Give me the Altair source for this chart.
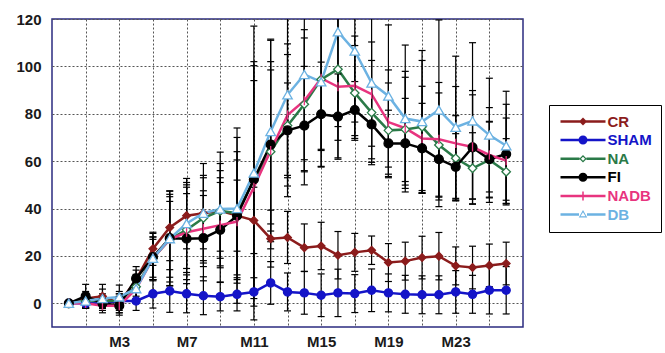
import altair as alt
import pandas as pd

# Months M0..M26 on a numeric axis
months = list(range(27))
series = ["CR", "SHAM", "NA", "FI", "NADB", "DB"]
colors = ["#8b1c1c", "#1414c8", "#2a7a48", "#000000", "#e8347f", "#6cb2e2"]
marker_fill = ["#8b1c1c", "#1414c8", "#ffffff", "#000000", "#e8347f", "#ffffff"]
marker_shape = ["diamond", "circle", "diamond", "circle", "M0,-1L0,1", "triangle-up"]
marker_size = [60, 90, 49, 81, 64, 64]

# Legend symbols: line segment plus marker, in symbol units (1 unit = 5 px at size 100)
legend_paths = [
    "M-4.5,-0.25L4.5,-0.25L4.5,0.25L-4.5,0.25Z M0,-0.8L0.8,0L0,0.8L-0.8,0Z",
    "M-4.5,-0.25L4.5,-0.25L4.5,0.25L-4.5,0.25Z M0.9,0A0.9,0.9 0 1,1 -0.9,0A0.9,0.9 0 1,1 0.9,0Z",
    "M-4.5,-0.25L-0.7,-0.25L-0.7,0.25L-4.5,0.25Z M0.7,-0.25L4.5,-0.25L4.5,0.25L0.7,0.25Z "
    "M0,-0.75L0.75,0L0,0.75L-0.75,0Z M0,-0.4L-0.4,0L0,0.4L0.4,0Z",
    "M-4.5,-0.25L4.5,-0.25L4.5,0.25L-4.5,0.25Z M0.9,0A0.9,0.9 0 1,1 -0.9,0A0.9,0.9 0 1,1 0.9,0Z",
    "M-4.5,-0.25L4.5,-0.25L4.5,0.25L-4.5,0.25Z M-0.15,-0.9L0.15,-0.9L0.15,0.9L-0.15,0.9Z",
    "M-4.5,-0.25L-0.8,-0.25L-0.8,0.25L-4.5,0.25Z M0.8,-0.25L4.5,-0.25L4.5,0.25L0.8,0.25Z "
    "M0,-0.9L0.85,0.6L-0.85,0.6Z M0,-0.45L-0.5,0.33L0.5,0.33Z",
]

# Means per group
cr = [0, 2, 3, 0, 10, 23, 32, 37, 38, 39, 37, 35, 27.3, 27.8, 23.5, 24.2, 20.3, 21.5, 22.4,
      17.2, 17.8, 19.3, 19.9, 15.8, 15.1, 16, 16.8]
sham = [0, 0, 0, 1, 1, 4, 5.2, 4, 3.2, 2.8, 3.8, 4.8, 8.6, 4.8, 4.4, 3.4, 4.4, 4.1, 5.5,
        4.4, 3.8, 3.6, 3.6, 4.8, 3.8, 5.5, 5.5]
na = [0, 1, 1, 1, 7, 19, 27, 31, 36, 39, 38, 52, 64, 75, 84, 94.5, 98.8, 88.8, 80.5,
      73, 73.4, 74.5, 66.8, 61.2, 57, 60.5, 55.5]
fi = [0, 3, 0, -1, 10.5, 19.5, 27.5, 27.3, 27.5, 31, 37, 52.3, 67, 73, 75, 79.8, 78.8, 81.6, 75.5,
      67.5, 67.5, 65.4, 60.8, 57.6, 65.8, 60.8, 63]
nadb = [0, 0, -1, -1, 6, 19, 27, 30, 31.5, 33, 34.5, 49, 64.5, 79.5, 85.5, 95, 91.4, 91.8, 88.3,
        76.5, 73.9, 69.6, 69.2, 67.5, 66, 62.6, 60.2]
db = [0, 1, 2, 2.7, 6.2, 19, 27.3, 33.7, 38, 39.8, 40, 55, 72.5, 88, 96.6, 93.5, 114.6, 106.5, 93,
      87.5, 78, 76.7, 81.6, 74.3, 77, 71, 66.5]

# Standard deviations per group (error bar half-lengths)
cr_sd = [0, 3, 5, 4, 4, 7, 14, 14, 15, 17, 15, 14, 12, 11, 10, 10, 10, 8, 6, 8, 8, 9, 10, 8, 9, 9, 9]
sham_sd = [0, 2, 2, 3, 4, 6, 9, 8, 8, 6, 7, 6, 9, 8, 9, 9, 10, 8, 9, 8, 8, 8, 8, 9, 8, 10, 10]
na_sd = [0, 3, 3, 4, 4, 9, 18, 18, 18, 20, 26, 50, 38, 30, 28, 30, 30, 20, 22,
         20, 22, 28, 22, 18, 15, 16, 14]
fi_sd = [0, 5, 3, 4, 5, 10, 20, 19, 18, 22, 37, 48, 44, 20, 25, 22, 18, 12, 16,
         14, 19, 19, 20, 14, 24, 16, 21]
nadb_sd = [0, 2, 3, 3, 4, 8, 16, 20, 16, 18, 26, 45, 34, 30, 30, 30, 30, 21, 22,
           22, 24, 22, 24, 24, 22, 20, 18]
db_sd = [0, 3, 4, 5, 6, 9, 20, 19, 21, 24, 30, 62, 39, 34, 36, 36, 40, 30, 32,
         30, 31, 30, 38, 30, 33, 24, 23]

means = dict(zip(series, [cr, sham, na, fi, nadb, db]))
sds = dict(zip(series, [cr_sd, sham_sd, na_sd, fi_sd, nadb_sd, db_sd]))

rows = []
for s in series:
    for m, v, e in zip(months, means[s], sds[s]):
        rows.append({"series": s, "month": m, "value": v, "lo": v - e, "hi": v + e, "sd": e})
df = pd.DataFrame(rows)

FONT = "Liberation Sans"

x_enc = alt.X(
    "month:Q",
    scale=alt.Scale(domain=[-1, 27], nice=False, zero=False),
    axis=alt.Axis(
        values=list(range(1, 26, 2)),
        labelExpr="datum.value % 4 == 3 ? 'M' + datum.value : ''",
        labelPadding=7,
        labelFlush=False,
    ),
    title=None,
)
y_scale = alt.Scale(domain=[-10, 120], nice=False, zero=False)
y_axis = alt.Axis(values=list(range(0, 121, 20)), labelPadding=11)

base = alt.Chart(df)

lines = base.mark_line(strokeWidth=2.5).encode(
    x=x_enc,
    y=alt.Y("value:Q", scale=y_scale, axis=y_axis, title=None),
    color=alt.Color("series:N", scale=alt.Scale(domain=series, range=colors), legend=None),
    detail="series:N",
)

err = base.transform_filter("datum.sd > 0")
bars = err.mark_rule(color="black", strokeWidth=1.2, clip=True).encode(
    x=x_enc,
    y=alt.Y("lo:Q", scale=y_scale, axis=y_axis, title=None),
    y2="hi:Q",
)
caps_lo = err.mark_tick(color="black", orient="horizontal", size=7, thickness=1.2,
                        clip=True, opacity=1).encode(
    x=x_enc, y=alt.Y("lo:Q", scale=y_scale, axis=y_axis, title=None))
caps_hi = err.mark_tick(color="black", orient="horizontal", size=7, thickness=1.2,
                        clip=True, opacity=1).encode(
    x=x_enc, y=alt.Y("hi:Q", scale=y_scale, axis=y_axis, title=None))

markers = base.mark_point(opacity=1, strokeWidth=1.3).encode(
    x=x_enc,
    y=alt.Y("value:Q", scale=y_scale, axis=y_axis, title=None),
    stroke=alt.Stroke("series:N", scale=alt.Scale(domain=series, range=colors), legend=None),
    fill=alt.Fill("series:N", scale=alt.Scale(domain=series, range=marker_fill), legend=None),
    shape=alt.Shape("series:N", scale=alt.Scale(domain=series, range=marker_shape), legend=None),
    size=alt.Size("series:N", scale=alt.Scale(domain=series, range=marker_size), legend=None),
)

label_color_expr = "[{}][indexof([{}], datum.value)]".format(
    ",".join("'%s'" % c for c in colors), ",".join("'%s'" % s for s in series))

legend = alt.Legend(
    title=None, orient="none", legendX=497, legendY=86,
    symbolSize=100, symbolStrokeWidth=0, symbolOffset=17.5, labelOffset=17,
    labelFont=FONT, labelFontSize=15, labelFontWeight="bold",
    labelColor=alt.ExprRef(expr=label_color_expr), labelBaseline="middle",
    labelExpr="datum.label + '  '",
    padding=9, rowPadding=2.6, strokeColor="black", fillColor="white",
)

key = base.transform_filter("false").mark_point(filled=True, opacity=1, size=100).encode(
    x=x_enc,
    y=alt.Y("value:Q", scale=y_scale, axis=y_axis, title=None),
    color=alt.Color("series:N", scale=alt.Scale(domain=series, range=colors), legend=legend),
    shape=alt.Shape("series:N", scale=alt.Scale(domain=series, range=legend_paths), legend=legend),
)

chart = (
    alt.layer(lines, bars, caps_lo, caps_hi, markers, key)
    .resolve_scale(color="independent", shape="independent")
    .properties(
        width=471, height=308,
        autosize=alt.AutoSizeParams(type="none"),
        padding={"left": 52, "top": 19, "right": 142, "bottom": 26},
        background="white",
    )
    .configure_view(stroke="#2b2b80", strokeWidth=1.5)
    .configure_axis(
        labelFont=FONT, labelFontSize=15, labelFontWeight="bold", labelColor="#1a1a1a",
        grid=True, gridColor="#555555", gridDash=[2, 2], gridWidth=1,
        domain=False, ticks=False,
    )
)

chart.save("out.html", embed_options={"renderer": "svg", "actions": False})
